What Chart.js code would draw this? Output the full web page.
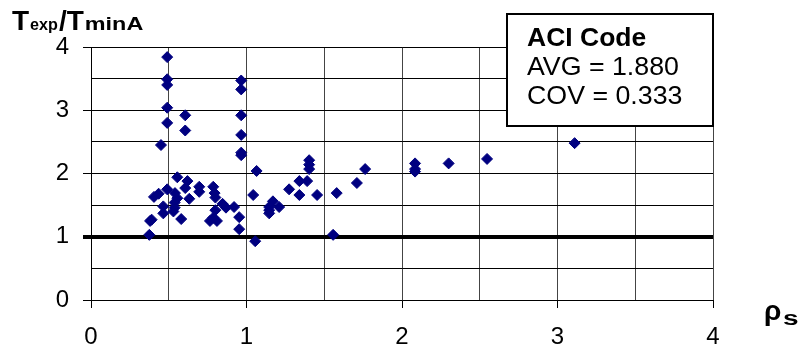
<!DOCTYPE html>
<html>
<head>
<meta charset="utf-8">
<script src="https://cdn.jsdelivr.net/npm/chart.js@4.4.1/dist/chart.umd.min.js"></script>
<style>
  html, body { margin: 0; padding: 0; background: #fff; }
  #wrap { width: 806px; height: 354px; position: relative; }
</style>
</head>
<body>
<div id="wrap"><canvas id="c" width="806" height="354"></canvas></div>
<script>
// rho_s values (x) and Texp/TminA ratios (y)
const rhoS = [
  0.375, 0.38, 0.39, 0.405, 0.435, 0.45, 0.465, 0.465,
  0.49, 0.49, 0.49, 0.49, 0.49, 0.49,
  0.54, 0.555, 0.538, 0.538, 0.53, 0.555, 0.58,
  0.606, 0.606, 0.62, 0.606, 0.632, 0.696, 0.696,
  0.786, 0.795, 0.80, 0.80, 0.765, 0.81, 0.786,
  0.846, 0.868, 0.92,
  0.966, 0.966, 0.966, 0.966, 0.966, 0.966, 0.953, 0.953,
  1.043, 1.056, 1.065,
  1.146, 1.146, 1.146, 1.17, 1.21,
  1.274, 1.34, 1.34, 1.39, 1.403, 1.403, 1.403, 1.454,
  1.58, 1.557, 1.71, 1.763,
  2.084, 2.084, 2.084, 2.30, 2.547, 3.11
];
const ratio = [
  1.03, 1.25, 1.27, 1.63, 1.68, 2.45, 1.48, 1.37,
  3.84, 3.49, 3.40, 3.04, 2.80, 1.75,
  1.69, 1.61, 1.54, 1.46, 1.40, 1.94, 1.28,
  2.92, 2.68, 1.88, 1.77, 1.60, 1.79, 1.71,
  1.79, 1.69, 1.62, 1.42, 1.25, 1.25, 1.30,
  1.52, 1.46, 1.47,
  3.47, 3.33, 2.92, 2.61, 2.33, 2.29, 1.31, 1.12,
  1.66, 0.93, 2.04,
  1.47, 1.42, 1.37, 1.56, 1.47,
  1.75, 1.88, 1.66, 1.88, 2.21, 2.14, 2.07, 1.66,
  1.69, 1.03, 1.85, 2.07,
  2.16, 2.07, 2.03, 2.16, 2.23, 2.48
];
const xTicks = [0, 1, 2, 3, 4];
const yTicks = [0, 1, 2, 3, 4];
const statLines = ['ACI Code', 'AVG = 1.880', 'COV = 0.333'];

const points = rhoS.map((x, i) => ({ x: x, y: ratio[i] }));
const isMajor = v => Math.abs(v - Math.round(v)) < 1e-6;
const FONT = 'Arial, "Liberation Sans", sans-serif';

// draws text slightly widened, the source picture is stretched sideways
function wideText(ctx, text, x, y, font, sx) {
  ctx.save();
  ctx.font = font;
  ctx.translate(x, y);
  ctx.scale(sx, 1);
  ctx.fillText(text, 0, 0);
  const w = ctx.measureText(text).width * sx;
  ctx.restore();
  return w;
}

// titles and the stats box drawn on top of the chart
const extras = {
  id: 'extras',
  afterDraw(chart) {
    const ctx = chart.ctx;
    ctx.save();
    ctx.fillStyle = '#000';
    ctx.textBaseline = 'alphabetic';
    ctx.textAlign = 'left';

    // y title: T exp / T minA
    let x = 12;
    x += wideText(ctx, 'T', x, 30, 'bold 28px ' + FONT, 1) + 1;
    x += wideText(ctx, 'exp', x, 30, 'bold 17px ' + FONT, 0.95) + 1;
    x += wideText(ctx, '/T', x, 30, 'bold 28px ' + FONT, 1) + 1;
    wideText(ctx, 'minA', x, 30, 'bold 18px ' + FONT, 1.3);

    // x title: rho s
    wideText(ctx, 'ρ', 764, 320, 'bold 28px ' + FONT, 1);
    wideText(ctx, 's', 783, 325, 'bold 20px ' + FONT, 1.4);

    // stats box
    ctx.fillStyle = '#fff';
    ctx.fillRect(507, 14, 206, 112);
    ctx.strokeStyle = '#000';
    ctx.lineWidth = 2;
    ctx.strokeRect(507, 14, 206, 112);
    ctx.fillStyle = '#000';
    wideText(ctx, statLines[0], 527, 46, 'bold 25px ' + FONT, 1.06);
    wideText(ctx, statLines[1], 527, 75, '25px ' + FONT, 1.07);
    wideText(ctx, statLines[2], 527, 104, '25px ' + FONT, 1.07);
    ctx.restore();
  }
};

new Chart(document.getElementById('c'), {
  type: 'scatter',
  data: {
    datasets: [{
      data: points,
      pointStyle: 'rectRot',
      pointRadius: 5.5,
      backgroundColor: '#000080',
      borderColor: '#000080',
      borderWidth: 1
    }]
  },
  options: {
    responsive: false,
    animation: false,
    layout: { padding: { left: 0, right: 93, top: 47, bottom: 0 } },
    plugins: {
      legend: { display: false },
      tooltip: { enabled: false }
    },
    scales: {
      x: {
        type: 'linear',
        min: xTicks[0],
        max: xTicks[xTicks.length - 1],
        afterFit(scale) { scale.height = 54; },
        ticks: {
          stepSize: 0.5,
          autoSkip: false,
          maxRotation: 0,
          padding: 15,
          color: '#000',
          font: { family: FONT, size: 24 },
          callback: v => xTicks.includes(v) ? String(v) : ''
        },
        grid: {
          color: '#444',
          lineWidth: 1,
          tickLength: 8,
          tickColor: ctx => (ctx.tick && isMajor(ctx.tick.value)) ? '#000' : 'rgba(0,0,0,0)'
        },
        border: { color: '#000', width: 1 }
      },
      y: {
        type: 'linear',
        min: yTicks[0],
        max: yTicks[yTicks.length - 1],
        afterFit(scale) { scale.width = 91; },
        ticks: {
          stepSize: 0.5,
          autoSkip: false,
          padding: 14,
          color: '#000',
          font: { family: FONT, size: 24 },
          callback: v => yTicks.includes(v) ? String(v) : ''
        },
        grid: {
          color: '#000',
          lineWidth: ctx => (ctx.tick && ctx.tick.value === 1) ? 4 : 1,
          tickLength: 8,
          tickColor: ctx => (ctx.tick && isMajor(ctx.tick.value)) ? '#000' : 'rgba(0,0,0,0)'
        },
        border: { color: '#000', width: 1 }
      }
    }
  },
  plugins: [extras]
});
</script>
</body>
</html>
